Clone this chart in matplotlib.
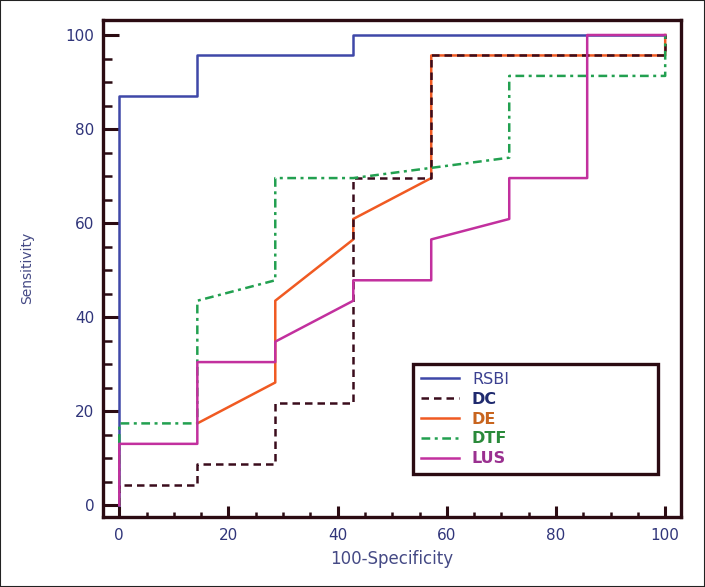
import matplotlib
matplotlib.use("Agg")
import matplotlib.pyplot as plt
from matplotlib.patches import Rectangle
from matplotlib.ticker import MultipleLocator

# ROC step points (100-Specificity, Sensitivity)
rsbi_x = [0, 0, 14.29, 14.29, 42.86, 42.86, 100]
rsbi_y = [0, 86.96, 86.96, 95.65, 95.65, 100, 100]

dc_x = [0, 0, 14.29, 14.29, 28.57, 28.57, 42.86, 42.86, 57.14, 57.14, 100, 100]
dc_y = [0, 4.35, 4.35, 8.70, 8.70, 21.74, 21.74, 69.57, 69.57, 95.65, 95.65, 100]

de_x = [14.29, 28.57, 28.57, 42.86, 42.86, 57.14, 57.14, 100, 100]
de_y = [17.39, 26.09, 43.48, 56.52, 60.87, 69.57, 95.65, 95.65, 100]

dtf_x = [0, 0, 14.29, 14.29, 28.57, 28.57, 42.86, 71.43, 71.43, 100, 100]
dtf_y = [0, 17.39, 17.39, 43.48, 47.83, 69.57, 69.57, 73.91, 91.30, 91.30, 100]

lus_x = [0, 0, 14.29, 14.29, 28.57, 28.57, 42.86, 42.86, 57.14, 57.14, 71.43, 71.43, 85.71, 85.71, 100]
lus_y = [0, 13.04, 13.04, 30.43, 30.43, 34.78, 43.48, 47.83, 47.83, 56.52, 60.87, 69.57, 69.57, 100, 100]

labels = ["RSBI", "DC", "DE", "DTF", "LUS"]
x_ticks = [0, 20, 40, 60, 80, 100]
y_ticks = [0, 20, 40, 60, 80, 100]

line_colors = {"RSBI": "#3f48a8", "DC": "#3a0c1c", "DE": "#f05a22", "DTF": "#22a050", "LUS": "#c2309e"}
text_colors = {"RSBI": "#3b4090", "DC": "#1f2a6e", "DE": "#c8641e", "DTF": "#2a8a3a", "LUS": "#9a3090"}
spine_col = "#2b0b12"

fig = plt.figure(figsize=(7.05, 5.87), dpi=100)
ax = fig.add_axes([0.146, 0.119, 0.820, 0.847])

lw = 1.8
h_rsbi, = ax.plot(rsbi_x, rsbi_y, color=line_colors["RSBI"], lw=lw, label="RSBI", zorder=2)
h_de, = ax.plot(de_x, de_y, color=line_colors["DE"], lw=lw, label="DE", zorder=3)
h_dc, = ax.plot(dc_x, dc_y, color=line_colors["DC"], lw=lw, dashes=(3, 2), label="DC", zorder=4)
h_dtf, = ax.plot(dtf_x, dtf_y, color=line_colors["DTF"], lw=lw, dashes=(3.5, 1.8, 1.2, 1.8), label="DTF", zorder=5)
h_lus, = ax.plot(lus_x, lus_y, color=line_colors["LUS"], lw=lw, label="LUS", zorder=6)

ax.set_xlim(-3.0, 102.9)
ax.set_ylim(-2.55, 103.2)
ax.set_xticks(x_ticks)
ax.set_yticks(y_ticks)
ax.xaxis.set_minor_locator(MultipleLocator(5))
ax.yaxis.set_minor_locator(MultipleLocator(5))

for s in ax.spines.values():
    s.set_color(spine_col)
    s.set_linewidth(2.4)

ax.tick_params(axis="both", which="both", direction="in", colors=spine_col,
               labelcolor="#30357a", top=False, right=False)
ax.tick_params(axis="y", which="major", length=11.5, width=2.2, pad=6, labelsize=11)
ax.tick_params(axis="y", which="minor", length=6.5, width=1.8)
ax.tick_params(axis="x", which="major", length=7.7, width=2.2, pad=8, labelsize=11)
ax.tick_params(axis="x", which="minor", length=3.6, width=1.8)

fig.text(27 / 705, 1 - 268 / 587, "Sensitivity", rotation=90, ha="center", va="center",
         fontsize=10, color="#454a85")
fig.text(392 / 705, 1 - 559 / 587, "100-Specificity", ha="center", va="center",
         fontsize=12, color="#454a85")

handles = [h_rsbi, h_dc, h_de, h_dtf, h_lus]
leg = ax.legend(handles, labels, loc="lower left",
                bbox_to_anchor=(0.536, 0.0865, 0.424, 0.2235), mode="expand",
                borderaxespad=0, fancybox=False, framealpha=1, fontsize=11.5,
                handlelength=2.4, handletextpad=0.8, labelspacing=0.3, borderpad=0.5)
leg.get_frame().set_edgecolor(spine_col)
leg.get_frame().set_linewidth(2.4)
for t, name in zip(leg.get_texts(), labels):
    t.set_color(text_colors[name])
    if name != "RSBI":
        t.set_fontweight("bold")

fig.add_artist(Rectangle((0, 0), 1, 1, transform=fig.transFigure, fill=False,
                         edgecolor="#222222", lw=1.5))

fig.savefig("out.png", dpi=100)
